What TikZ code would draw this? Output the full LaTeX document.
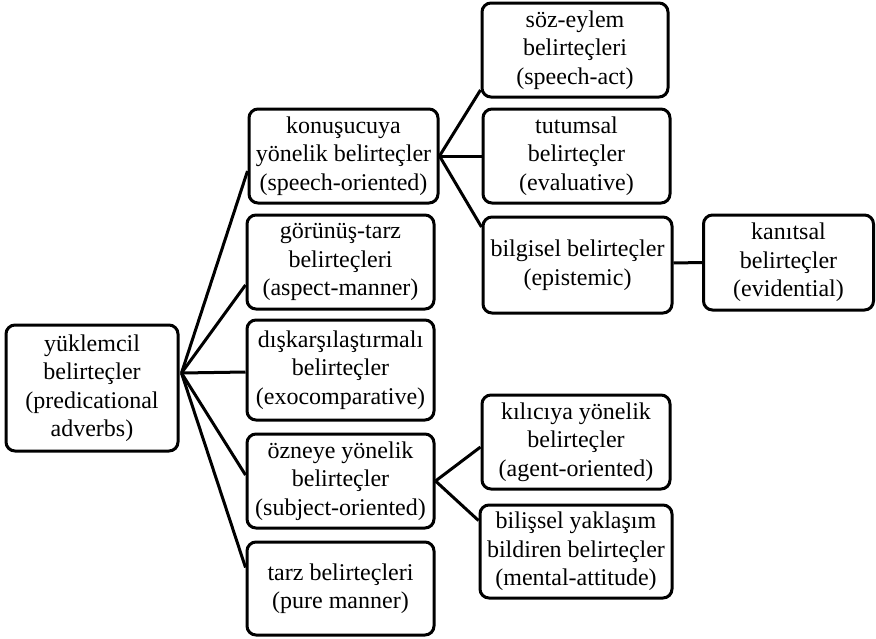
\documentclass[tikz,border=0pt]{standalone}
\usepackage{fontspec}
\setmainfont{Liberation Serif}
\usetikzlibrary{calc}
\begin{document}
\begin{tikzpicture}[x=1pt,y=-1pt,
  box/.style={draw,line width=3pt,rounded corners=9pt,inner sep=0pt,align=center,
    font=\fontsize{24}{28.5}\selectfont},
  link/.style={line width=3pt}]
\useasboundingbox (0,0) rectangle (876,638);
\node[box,minimum width=172,minimum height=126] (root) at (92,388) {yüklemcil\\belirteçler\\(predicational\\adverbs)};
\node[box,minimum width=189,minimum height=94] (k) at (343.5,156) {konuşucuya\\yönelik belirteçler\\(speech-oriented)};
\node[box,minimum width=187,minimum height=94] (g) at (340.5,262) {görünüş-tarz\\belirteçleri\\(aspect-manner)};
\node[box,minimum width=187,minimum height=100] (d) at (340.5,370) {dışkarşılaştırmalı\\belirteçler\\(exocomparative)};
\node[box,minimum width=187,minimum height=94] (o) at (340.5,481) {özneye yönelik\\belirteçler\\(subject-oriented)};
\node[box,minimum width=187,minimum height=93] (t) at (340.5,588.5) {tarz belirteçleri\\(pure manner)};
\node[box,minimum width=186,minimum height=94] (s) at (575,50) {söz-eylem\\belirteçleri\\(speech-act)};
\node[box,minimum width=187,minimum height=94] (tu) at (576.5,156) {tutumsal\\belirteçler\\(evaluative)};
\node[box,minimum width=189,minimum height=96] (b) at (577.5,265) {bilgisel belirteçler\\(epistemic)};
\node[box,minimum width=170,minimum height=95] (ka) at (788.5,262.5) {kanıtsal\\belirteçler\\(evidential)};
\node[box,minimum width=188,minimum height=94] (kl) at (576,442) {kılıcıya yönelik\\belirteçler\\(agent-oriented)};
\node[box,minimum width=192,minimum height=93] (bi) at (576,551.5) {bilişsel yaklaşım\\bildiren belirteçler\\(mental-attitude)};
\coordinate (rf) at ($(root.east)+(2,-15)$);
\coordinate (ke) at ($(k.west)+(0,15)$);
\coordinate (ge) at ($(g.west)+(0,23)$);
\coordinate (de) at ($(d.west)+(0,2)$);
\coordinate (oe) at ($(o.west)+(0,-6)$);
\coordinate (te) at ($(t.west)+(0,-21)$);
\coordinate (se) at ($(s.west)+(0,40)$);
\coordinate (be) at ($(b.west)+(0,-38)$);
\coordinate (kle) at ($(kl.west)+(0,5)$);
\coordinate (bie) at ($(bi.west)+(0,-31)$);
\draw[link] (rf) -- (ke);
\draw[link] (rf) -- (ge);
\draw[link] (rf) -- (de);
\draw[link] (rf) -- (oe);
\draw[link] (rf) -- (te);
\draw[link] (k.east) -- (se);
\draw[link] (k.east) -- (tu.west);
\draw[link] (k.east) -- (be);
\draw[link] (o.east) -- (kle);
\draw[link] (o.east) -- (bie);
\draw[link] ($(b.east)+(0,-2)$) -- (ka.west);
\end{tikzpicture}
\end{document}
